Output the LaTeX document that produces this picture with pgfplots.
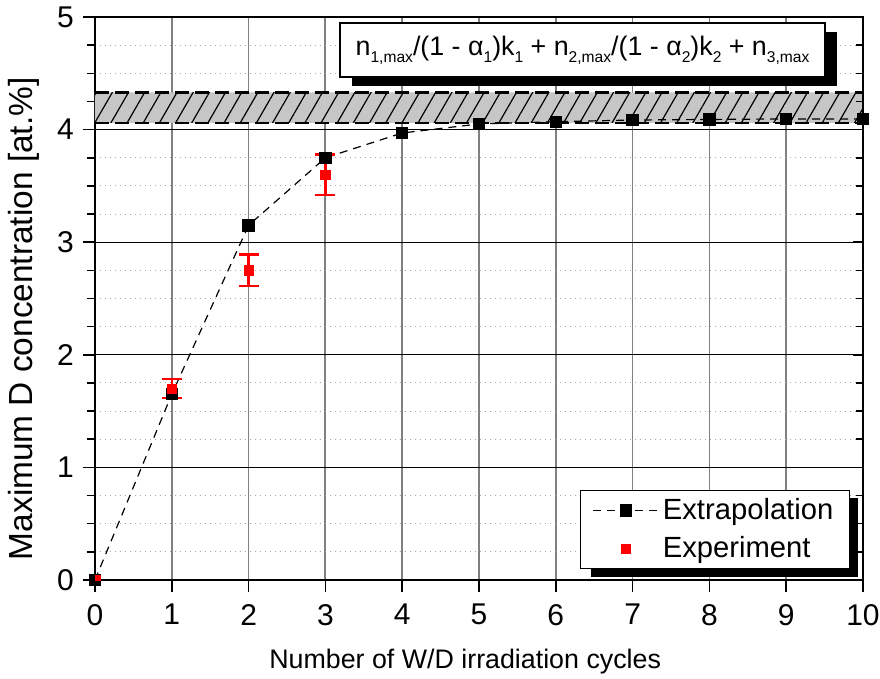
\documentclass[border=0pt]{standalone}
\usepackage{fontspec}
\setmainfont{Liberation Sans}
\usepackage{pgfplots}
\pgfplotsset{compat=1.18}
\usetikzlibrary{shadows,patterns.meta}
\newcommand{\sub}[1]{\raisebox{-3.3pt}{\fontsize{7.8}{9}\selectfont #1}}

\begin{document}
\begin{tikzpicture}
\useasboundingbox (-47.5pt,-49.5pt) rectangle (392.5pt,290pt);
\begin{axis}[
  scale only axis, width=384pt, height=281.5pt,
  xmin=0, xmax=10, ymin=0, ymax=5,
  xtick={0,...,10}, ytick={0,...,5},
  minor y tick num=3,
  tick align=outside, xtick pos=bottom, ytick pos=left,
  major tick length=6pt, minor tick length=4pt,
  axis line style={line width=1pt},
  every tick/.style={black, line width=0.8pt},
  xmajorgrids, ymajorgrids, yminorgrids,
  major x grid style={gray, line width=0.9pt},
  major y grid style={black, line width=0.6pt},
  minor y grid style={gray!70, line width=0.5pt, dotted},
  ticklabel style={font=\fontsize{15}{17}\selectfont},
  xticklabel style={yshift=-2.5pt},
  yticklabel style={xshift=-1pt},
  /pgf/number format/assume math mode=true,
  xlabel={Number of W/D irradiation cycles},
  ylabel={Maximum D concentration [at.\%]},
  xlabel style={at={(ticklabel cs:0.482)}, font=\fontsize{13.4}{16}\selectfont, yshift=-5pt},
  ylabel style={at={(ticklabel cs:0.464)}, font=\fontsize{16.7}{19}\selectfont, yshift=2pt},
  legend cell align=left,
  legend image code/.code={\draw[mark repeat=2,mark phase=2,#1] plot coordinates {(0cm,0cm) (0.57cm,0cm) (1.14cm,0cm)};},
  legend style={at={(0.983,0.16)}, anchor=north east, draw=black, line width=0.6pt, fill=white,
    font=\fontsize{14.6}{17}\selectfont, inner xsep=6pt, inner ysep=2pt, row sep=3pt},
]
% band
\addplot[draw=none, fill=gray!45, forget plot] coordinates {(0,4.06) (10,4.06) (10,4.33) (0,4.33) (0,4.06)};
\addplot[draw=none, pattern={Lines[angle=60,distance=7pt,line width=0.6pt]}, forget plot] coordinates {(0,4.06) (10,4.06) (10,4.33) (0,4.33) (0,4.06)};
\addplot[black, line width=1.2pt, dash pattern=on 7pt off 3pt, forget plot] coordinates {(0,4.06) (10,4.06)};
\addplot[black, line width=1.2pt, dash pattern=on 7pt off 3pt, forget plot] coordinates {(0,4.33) (10,4.33)};

% legend shadow
\fill[black] (rel axis cs:0.646,0.0053) rectangle (rel axis cs:0.9935,0.1456);

% extrapolation
\addplot[black, line width=0.6pt, dash pattern=on 4pt off 3pt, mark=square*, mark size=2.8pt, mark options={solid}]
  coordinates {(0,0) (1,1.65) (2,3.15) (3,3.75) (4,3.97) (5,4.05) (6,4.07) (7,4.085) (8,4.09) (9,4.095) (10,4.095)};
\addlegendentry{Extrapolation}

% experiment
\addplot[only marks, red, mark=square*, mark size=2.3pt,
  error bars/.cd, y dir=both, y explicit,
  error bar style={red, line width=1.2pt},
  error mark options={red, rotate=90, mark size=5pt, line width=1.2pt}]
  coordinates {(1,1.70) +- (0,0.085) (2,2.75) +- (0,0.14) (3,3.60) +- (0,0.18)};
\addlegendentry{Experiment}
\addplot[only marks, red, mark=square*, mark size=1.4pt, forget plot] coordinates {(0.04,0.02)};

\node[draw, line width=0.8pt, fill=white, minimum width=242.5pt, minimum height=27pt, inner xsep=2pt,
  font=\fontsize{13.4}{16}\selectfont,
  drop shadow={shadow xshift=6pt, shadow yshift=-4.5pt, fill=black, opacity=1}]
  at (axis cs:6.348,4.707)
  {n\sub{1,max}/(1 - α\sub{1})k\sub{1} + n\sub{2,max}/(1 - α\sub{2})k\sub{2} + n\sub{3,max}};
\end{axis}
\begin{axis}[
  scale only axis, width=384pt, height=281.5pt,
  xmin=0, xmax=10, ymin=0, ymax=5,
  axis x line=none, axis y line*=right,
  ytick={0,...,5}, minor y tick num=3, yticklabels={},
  tick align=inside, major tick length=5pt, minor tick length=3.5pt,
  axis line style={line width=1pt},
  every tick/.style={black, line width=0.8pt},
]
\end{axis}
\end{tikzpicture}
\end{document}
